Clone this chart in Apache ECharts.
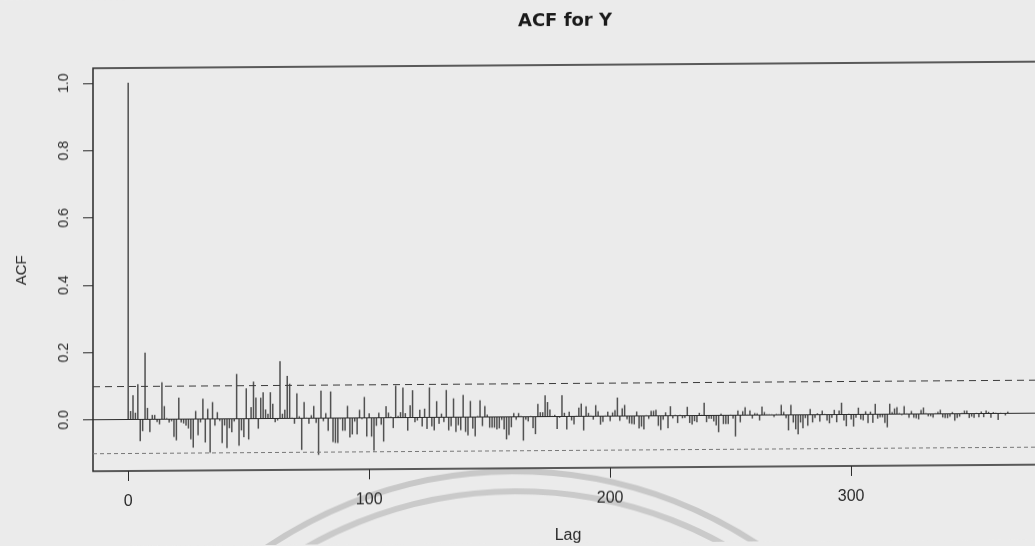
<!DOCTYPE html>
<html>
<head>
<meta charset="utf-8">
<title>ACF for Y</title>
<script src="https://cdn.jsdelivr.net/npm/echarts@6/dist/echarts.min.js"></script>
<style>
  html, body { margin: 0; padding: 0; background: #ebebeb; overflow: hidden; }
  /* the scanned plot is slightly skewed: right side sits a few pixels higher */
  #chart { width: 1035px; height: 546px; transform: skewY(-0.4deg); transform-origin: 128px 419px; }
</style>
</head>
<body>
<div id="chart"></div>
<script>
// autocorrelation values, lag 0 .. 365
const acfValues = [
  1.0, 0.025, 0.072, 0.02, 0.105, -0.065, -0.035, 0.198, 0.034, -0.038,
  0.013, 0.013, -0.008, -0.015, 0.11, 0.039, 0.003, -0.01, -0.006, -0.053,
  -0.063, 0.064, -0.01, -0.013, -0.019, -0.028, -0.06, -0.085, 0.024, -0.048,
  -0.01, 0.06, -0.07, 0.03, -0.10, 0.05, -0.02, 0.02, -0.006, -0.072,
  -0.02, -0.087, -0.028, -0.04, -0.008, 0.133, -0.08, -0.035, -0.055, 0.09,
  -0.062, 0.034, 0.11, 0.062, -0.03, 0.062, 0.078, 0.027, 0.014, 0.078,
  0.044, -0.011, -0.006, 0.17, 0.014, 0.026, 0.126, 0.103, 0.002, -0.016,
  0.074, 0.006, -0.094, 0.048, 0.002, -0.016, 0.009, 0.036, -0.014, -0.109,
  0.082, -0.009, 0.015, -0.038, 0.079, -0.071, -0.074, -0.074, -0.003, -0.038,
  -0.038, 0.036, -0.058, -0.049, -0.011, -0.049, 0.024, -0.004, 0.062, -0.056,
  0.013, -0.056, -0.098, -0.024, 0.015, -0.021, -0.071, 0.034, 0.015, 0.003,
  -0.031, 0.095, 0.005, 0.016, 0.089, 0.013, -0.039, 0.036, 0.081, -0.014,
  -0.009, 0.023, -0.027, 0.026, -0.034, 0.089, -0.027, -0.039, 0.048, -0.019,
  0.011, -0.014, 0.081, -0.039, -0.027, 0.056, -0.044, -0.024, -0.039, 0.066,
  -0.044, -0.054, 0.048, -0.034, -0.057, 0.003, 0.05, -0.027, 0.033, 0.007,
  -0.032, -0.032, -0.032, -0.037, -0.034, -0.009, -0.037, -0.067, -0.054, -0.031,
  0.011, -0.009, 0.011, 0.002, -0.071, -0.009, -0.014, 0.002, -0.034, -0.052,
  0.038, 0.013, 0.013, 0.063, 0.043, 0.021, 0.002, 0.005, -0.037, -0.004,
  0.063, 0.011, -0.039, 0.014, -0.012, -0.024, 0.002, 0.026, 0.038, -0.042,
  0.03, 0.01, 0.002, -0.01, 0.033, 0.015, -0.025, -0.017, 0.002, 0.013,
  -0.015, 0.011, 0.018, 0.055, -0.014, 0.023, 0.033, -0.01, -0.022, -0.024,
  -0.025, 0.013, -0.037, -0.032, -0.04, 0.002, -0.009, 0.015, 0.015, 0.018,
  -0.03, -0.042, -0.012, 0.01, -0.037, 0.028, -0.008, 0.002, -0.022, 0.002,
  -0.008, -0.007, 0.026, -0.022, -0.027, -0.017, -0.02, 0.008, 0.002, 0.038,
  -0.02, -0.01, -0.01, -0.018, -0.03, -0.05, 0.005, -0.026, -0.026, -0.026,
  0.002, -0.01, -0.063, 0.014, -0.021, 0.012, 0.024, 0.002, 0.014, -0.01,
  0.006, 0.005, -0.016, 0.025, 0.009, 0.002, 0.002, 0.002, -0.006, 0.003,
  0.002, 0.03, 0.009, -0.01, -0.046, 0.03, -0.023, -0.043, -0.058, -0.023,
  -0.04, -0.01, -0.033, 0.017, -0.023, -0.01, 0.004, -0.021, 0.012, 0.002,
  -0.018, -0.026, -0.01, 0.014, -0.023, 0.012, 0.035, -0.018, -0.035, 0.002,
  -0.015, -0.036, -0.01, 0.02, -0.015, -0.018, 0.009, -0.026, 0.008, -0.025,
  0.031, -0.013, -0.009, -0.009, -0.026, -0.039, 0.031, 0.006, 0.017, 0.021,
  0.003, -0.003, 0.024, 0.002, -0.011, 0.009, -0.011, -0.013, -0.016, 0.012,
  0.019, 0.002, -0.007, -0.007, -0.011, 0.002, 0.006, 0.012, -0.011, -0.013,
  -0.013, -0.009, 0.005, -0.021, -0.013, -0.009, 0.002, 0.009, 0.009, -0.013,
  -0.009, -0.013, 0.002, -0.011, 0.006, -0.011, 0.009, 0.005, -0.013, 0.004,
  0.002, -0.019, 0.002, 0.001, -0.006, 0.005
];
const lags = acfValues.map((v, i) => i);
const confBound = 0.104;           // dashed significance bounds
const xTicks = [0, 100, 200, 300];
const yTicks = [0, 0.2, 0.4, 0.6, 0.8, 1.0];

const maxLag = lags[lags.length - 1];
const xPad = maxLag * 0.04;

const chart = echarts.init(document.getElementById('chart'));

const option = {
  backgroundColor: '#ebebeb',
  animation: false,
  textStyle: { fontFamily: 'Liberation Sans, Arial, sans-serif' },
  title: {
    text: 'ACF for Y',
    left: 560,
    top: 10,
    textAlign: 'center',
    textStyle: { fontSize: 18, fontWeight: 'bold', color: '#1a1a1a', fontFamily: 'DejaVu Sans, sans-serif' }
  },
  graphic: [
    // faint stamp rings from the scan
    { type: 'circle', z: -1, shape: { cx: 512, cy: 915, r: 441 }, style: { fill: 'none', stroke: '#c8c8c8', lineWidth: 6 } },
    { type: 'circle', z: -1, shape: { cx: 515, cy: 920, r: 426 }, style: { fill: 'none', stroke: '#cacaca', lineWidth: 6 } }
  ],
  grid: {
    left: 93,
    top: 68,
    width: 950,
    height: 403,
    outerBoundsMode: 'none',
    containLabel: false,
    show: true,
    borderColor: '#2a2a2a',
    borderWidth: 1.5,
    backgroundColor: 'transparent'
  },
  xAxis: {
    type: 'value',
    min: -xPad,
    max: maxLag + xPad,
    name: 'Lag',
    nameLocation: 'middle',
    nameGap: 60,
    nameTextStyle: { fontSize: 16, color: '#2a2a2a' },
    axisLine: { show: false, onZero: false },
    axisTick: { show: true, length: 10, customValues: xTicks, lineStyle: { color: '#2a2a2a', width: 1 } },
    axisLabel: { customValues: xTicks, fontSize: 16, color: '#2a2a2a', margin: 23 },
    splitLine: { show: false }
  },
  yAxis: {
    type: 'value',
    min: -0.153,
    max: 1.044,
    name: 'ACF',
    nameLocation: 'middle',
    nameGap: 64,
    nameRotate: 90,
    nameTextStyle: { fontSize: 15, color: '#2a2a2a' },
    axisLine: { show: false, onZero: false },
    axisTick: { show: true, length: 10, customValues: yTicks, lineStyle: { color: '#2a2a2a', width: 1 } },
    axisLabel: { customValues: yTicks, rotate: 90, fontSize: 14, color: '#2a2a2a', margin: 22, formatter: v => v.toFixed(1) },
    splitLine: { show: false }
  },
  series: [{
    type: 'bar',
    data: lags.map((lag, i) => [lag, acfValues[i]]),
    barWidth: 1.5,
    itemStyle: { color: '#505050' },
    silent: true,
    markLine: {
      silent: true,
      symbol: 'none',
      label: { show: false },
      data: [
        { yAxis: 0, lineStyle: { color: '#2a2a2a', width: 1.2, type: 'solid' } },
        { yAxis: confBound, lineStyle: { color: '#3a3a3a', width: 1, type: [7, 5] } },
        { yAxis: -confBound, lineStyle: { color: '#777777', width: 1, type: [4, 3] } }
      ]
    }
  }]
};

chart.setOption(option);
</script>
</body>
</html>
